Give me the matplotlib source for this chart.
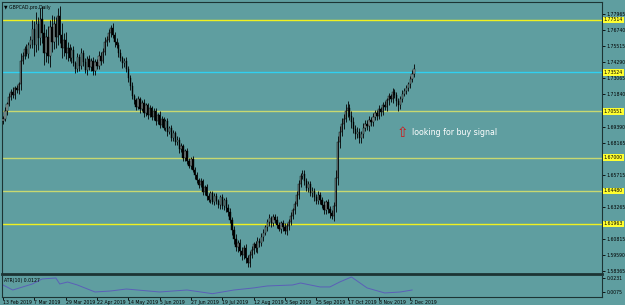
import numpy as np
import pandas as pd
import matplotlib
matplotlib.use("Agg")
import matplotlib.pyplot as plt

# ── Data ───────────────────────────────────────────────────────
dates = pd.bdate_range("2019-02-13", periods=211)

closes = [
    1.7000, 1.7060, 1.7110, 1.7165, 1.7205, 1.7180, 1.7230, 1.7215, 1.7260, 1.7440,
    1.7480, 1.7530, 1.7495, 1.7560, 1.7600, 1.7680, 1.7560, 1.7720, 1.7610, 1.7760,
    1.7650, 1.7500, 1.7620, 1.7480, 1.7700, 1.7580, 1.7720, 1.7620, 1.7780, 1.7640,
    1.7540, 1.7600, 1.7500, 1.7540, 1.7460, 1.7520, 1.7420, 1.7380, 1.7470, 1.7400,
    1.7500, 1.7430, 1.7370, 1.7450, 1.7390, 1.7440, 1.7360, 1.7430, 1.7400, 1.7480,
    1.7440, 1.7510, 1.7580, 1.7600, 1.7650, 1.7690, 1.7640, 1.7580, 1.7560, 1.7500,
    1.7460, 1.7420, 1.7440, 1.7380, 1.7310, 1.7250, 1.7170, 1.7140, 1.7090, 1.7150,
    1.7070, 1.7120, 1.7040, 1.7100, 1.7030, 1.7080, 1.7010, 1.7060, 1.6980, 1.7030,
    1.6950, 1.7000, 1.6930, 1.6980, 1.6900, 1.6930, 1.6850, 1.6890, 1.6820, 1.6840,
    1.6770, 1.6790, 1.6700, 1.6750, 1.6680, 1.6640, 1.6690, 1.6610, 1.6570, 1.6530,
    1.6490, 1.6520, 1.6440, 1.6480, 1.6410, 1.6380, 1.6430, 1.6360, 1.6410, 1.6370,
    1.6340, 1.6400, 1.6330, 1.6380, 1.6320, 1.6290, 1.6230, 1.6150, 1.6080, 1.6020,
    1.6050, 1.5990, 1.5960, 1.6010, 1.5940, 1.5900, 1.5960, 1.6000, 1.6040, 1.6010,
    1.6070, 1.6050, 1.6100, 1.6130, 1.6170, 1.6210, 1.6240, 1.6200, 1.6250, 1.6230,
    1.6190, 1.6160, 1.6200, 1.6170, 1.6140, 1.6180, 1.6210, 1.6260, 1.6300, 1.6350,
    1.6420, 1.6500, 1.6560, 1.6580, 1.6520, 1.6470, 1.6500, 1.6430, 1.6450, 1.6400,
    1.6370, 1.6420, 1.6380, 1.6340, 1.6300, 1.6360, 1.6310, 1.6280, 1.6260, 1.6330,
    1.6550, 1.6820, 1.6900, 1.6960, 1.7000, 1.7060, 1.7080, 1.7020, 1.6970, 1.6920,
    1.6880, 1.6900, 1.6850, 1.6880, 1.6930, 1.6960, 1.6940, 1.6990, 1.6970, 1.7010,
    1.7040, 1.7020, 1.7070, 1.7050, 1.7100, 1.7090, 1.7140, 1.7170, 1.7150, 1.7200,
    1.7180, 1.7130, 1.7100, 1.7150, 1.7190, 1.7210, 1.7230, 1.7260, 1.7300, 1.7340,
    1.7380,
]

# wick lengths in pips above / below the body
wick_up = [
    20, 25, 15, 30, 20, 35, 15, 25, 20, 60, 30, 25, 40, 20, 30,
    70, 60, 90, 50, 80, 100, 70, 60, 85, 50, 90, 65, 55, 60, 75, 90, 50, 60, 45,
    30, 25, 35, 20, 30, 25, 40, 20, 30, 25, 35, 20, 30, 25, 20, 35, 25, 30, 40,
    30, 35, 25, 40, 20, 30, 25, 30, 20, 25, 30, 20, 25, 30, 20,
    20, 25, 15, 20, 25, 15, 20, 25, 15, 20, 20, 15, 25, 20, 15, 20, 25, 15, 20, 25,
    15, 30, 20, 25, 15, 20, 25, 20, 15, 25, 20,
    20, 15, 25, 20, 15, 20, 25, 15, 20, 25, 20, 15, 20, 25, 15, 20, 30, 25, 20, 30,
    40, 25, 30,
    30, 25, 35, 20, 30, 25, 20, 30, 25, 20, 30, 25, 20, 25, 30, 20, 25, 20, 30, 25,
    20, 25, 30, 20, 25, 30, 20, 25, 30, 35, 25, 30,
    25, 30, 20, 25, 30, 20, 25, 30, 20, 25, 30, 20, 25, 20, 25, 30,
    60, 50, 40, 45, 35, 50, 55, 30, 35, 40, 30, 35, 30, 25, 35, 30, 25, 30, 25, 30, 25,
    25, 30, 20, 25, 30, 20, 25, 20, 30, 25, 20, 25, 20, 25, 20, 25, 20, 25, 30, 35,
]
wick_dn = [
    25, 20, 30, 15, 25, 20, 30, 20, 25, 40, 25, 30, 20, 35, 25,
    65, 80, 55, 90, 50, 75, 95, 70, 60, 85, 70, 50, 80, 60, 65, 75, 60, 50, 65,
    25, 35, 20, 30, 25, 35, 20, 30, 25, 35, 20, 30, 25, 30, 20, 25, 35, 20, 25,
    25, 20, 30, 25, 35, 20, 30, 25, 35, 30, 25, 35, 30, 25, 30,
    25, 20, 30, 15, 25, 20, 30, 15, 25, 20, 30, 20, 25, 15, 20, 25, 30, 20, 25, 20,
    25, 20, 30, 25, 20, 25, 30, 20, 25, 20, 30,
    25, 20, 15, 25, 20, 30, 20, 25, 15, 20, 25, 20, 30, 20, 25, 30, 35, 30, 40, 35,
    30, 40, 35,
    35, 30, 40, 30, 35, 25, 30, 25, 35, 30, 25, 30, 20, 25, 30, 25, 20, 30, 25, 20,
    30, 25, 20, 25, 30, 20, 25, 30, 20, 30, 25, 20,
    30, 25, 30, 20, 25, 30, 25, 20, 30, 25, 30, 25, 30, 35, 25, 40,
    40, 60, 45, 35, 40, 30, 45, 35, 40, 30, 35, 30, 35, 40, 30, 25, 30, 35, 25, 30, 25,
    30, 25, 30, 20, 25, 30, 35, 25, 30, 25, 35, 40, 30, 25, 20, 25, 20, 25, 20, 25,
]

# ATR(10) read at a handful of bars
atr_idx = [0, 5, 15, 20, 27, 29, 33, 38, 47, 55, 63, 80, 94, 107, 118, 128, 135,
           148, 152, 162, 167, 172, 178, 186, 195, 203, 209]
atr_val = [0.0153, 0.0097, 0.0164, 0.0220, 0.0231, 0.0164, 0.0186, 0.0153, 0.0075,
           0.0086, 0.0108, 0.0075, 0.0097, 0.0056, 0.0097, 0.0120, 0.0142, 0.0153,
           0.0175, 0.0131, 0.0131, 0.0186, 0.0242, 0.0120, 0.0064, 0.0075, 0.0097]

# horizontal levels drawn on the chart
level_prices = [1.77514, 1.70551, 1.67000, 1.64480, 1.61963]
level_colors = ["#f0f020", "#c8d870", "#c8d870", "#c8d870", "#f0f020"]
cyan_level = 1.73524

price_ticks = [1.58365, 1.59590, 1.60815, 1.62040, 1.63265, 1.64490, 1.65715,
               1.66940, 1.68165, 1.69390, 1.70615, 1.71840, 1.73065, 1.74290,
               1.75515, 1.76740, 1.77965]
# these labels sit under the yellow level boxes
hidden_ticks = [1.62040, 1.64490, 1.66940, 1.70615]

assert len(closes) == len(wick_up) == len(wick_dn) == len(dates)

closes = np.array(closes)
opens = np.concatenate([[1.6980], closes[:-1]])
highs = np.maximum(opens, closes) + np.array(wick_up) / 10000
lows = np.minimum(opens, closes) - np.array(wick_dn) / 10000
x = np.arange(len(closes))

# ── Figure layout (MT4 style) ──────────────────────────────────
BG = "#5f9ea0"
W, H = 625, 305
FS = 3.3
fig = plt.figure(figsize=(W / 100, H / 100), dpi=100, facecolor=BG)
ax = fig.add_axes([2 / W, 1 - 274 / H, 600 / W, 272 / H], facecolor=BG)
ax2 = fig.add_axes([2 / W, 1 - 297 / H, 600 / W, 21 / H], facecolor=BG, sharex=ax)

# ── Candles ────────────────────────────────────────────────────
up = closes >= opens
ax.vlines(x, lows, highs, color="black", lw=0.6, zorder=3)
ax.bar(x[up], (closes - opens)[up], bottom=opens[up], width=0.65,
       color="#8fa3a3", edgecolor="black", lw=0.3, zorder=4)
ax.bar(x[~up], (opens - closes)[~up], bottom=closes[~up], width=0.65,
       color="black", edgecolor="black", lw=0.3, zorder=4)

# ── Levels ─────────────────────────────────────────────────────
def level_label(price):
    ax.text(1.003, price, f"{price:.5f}", transform=ax.get_yaxis_transform(),
            fontsize=FS, va="center", ha="left", color="black", zorder=10,
            bbox=dict(boxstyle="square,pad=0.2", fc="#ffff30", ec="none"),
            clip_on=False)

for lv, c in zip(level_prices, level_colors):
    ax.axhline(lv, color=c, lw=1.0, zorder=2)
    level_label(lv)
ax.axhline(cyan_level, color="#30d0f0", lw=1.0, zorder=2)
level_label(cyan_level)

ax.set_xlim(-0.5, 306)
ax.set_ylim(1.5815, 1.7888)

# right price scale
ax.yaxis.tick_right()
ax.set_yticks(price_ticks)
ax.set_yticklabels(["" if t in hidden_ticks else f"{t:.5f}" for t in price_ticks])
ax.tick_params(axis="y", labelsize=FS, length=2, width=0.6, pad=1.5,
               colors="black")
ax.tick_params(axis="x", bottom=False, labelbottom=False)

# annotation
ax.text(204.3, 1.6893, "⇧", fontsize=10, color="#d01818", ha="center",
        va="center", zorder=6)
ax.text(209, 1.6893, "looking for buy signal", fontsize=5.7, color="white",
        ha="left", va="center", zorder=6)
ax.text(0.004, 0.988, "▼ GBPCAD.pro,Daily", transform=ax.transAxes,
        fontsize=FS, color="black", ha="left", va="top")

# ── ATR panel ──────────────────────────────────────────────────
ax2.plot(atr_idx, atr_val, color="#5b5fb8", lw=0.7)
ax2.set_ylim(0.0019, 0.0253)
ax2.yaxis.tick_right()
ax2.set_yticks([0.0231, 0.0075])
ax2.set_yticklabels(["0.0231", "0.0075"])
ax2.tick_params(axis="y", labelsize=FS, length=2, width=0.6, pad=1.5)
ax2.text(0.004, 0.92, "ATR(10) 0.0127", transform=ax2.transAxes,
         fontsize=FS, color="black", ha="left", va="top")

date_idx = list(range(0, 211, 16))
ax2.set_xticks(date_idx)
ax2.set_xticklabels([f"{dates[i].day} {dates[i]:%b %Y}" for i in date_idx],
                    ha="left")
ax2.tick_params(axis="x", labelsize=FS, length=2, width=0.6, pad=0.5,
                direction="out")

for a in (ax, ax2):
    for s in a.spines.values():
        s.set_color("#1c3434")
        s.set_linewidth(0.8)
ax.spines["bottom"].set_linewidth(2.0)
ax2.spines["top"].set_linewidth(0.0)

fig.savefig("out.png", dpi=100, facecolor=BG)
